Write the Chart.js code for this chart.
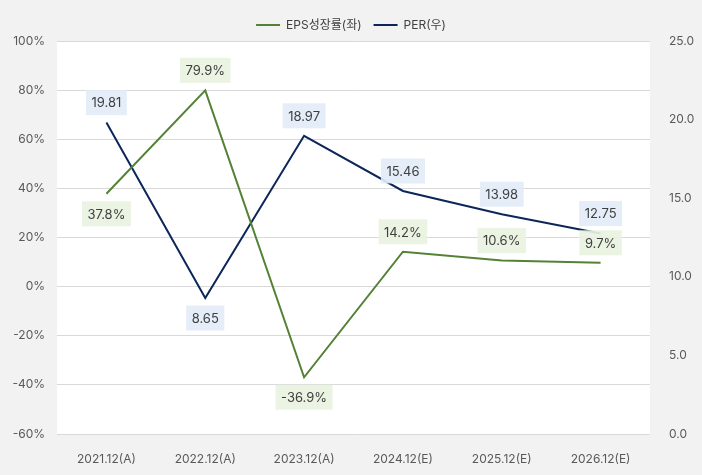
<!DOCTYPE html>
<html>
<head>
<meta charset="utf-8">
<script src="https://cdn.jsdelivr.net/npm/chart.js@4"></script>
<style>
  html, body { margin: 0; padding: 0; background: #f2f2f2; }
  #wrap { width: 702px; height: 475px; }
</style>
</head>
<body>
<div id="wrap"><canvas id="chart"></canvas></div>
<script>
const categories = ['2021.12(A)', '2022.12(A)', '2023.12(A)', '2024.12(E)', '2025.12(E)', '2026.12(E)'];
const epsGrowth = [37.8, 79.9, -36.9, 14.2, 10.6, 9.7];
const per = [19.81, 8.65, 18.97, 15.46, 13.98, 12.75];
const epsLabels = ['37.8%', '79.9%', '-36.9%', '14.2%', '10.6%', '9.7%'];
const perLabels = ['19.81', '8.65', '18.97', '15.46', '13.98', '12.75'];

// label placement: 1 = above point, -1 = below
const epsSide = [-1, 1, -1, 1, 1, 1];
const perSide = [1, -1, 1, 1, 1, 1];

const FONT = 'Inter, "Noto Sans CJK KR", sans-serif';

const plotBg = {
  id: 'plotBg',
  beforeDraw(chart) {
    const { ctx, chartArea: a } = chart;
    ctx.save();
    ctx.fillStyle = '#ffffff';
    ctx.fillRect(a.left, a.top, a.right - a.left, a.bottom - a.top);
    ctx.restore();
  },
};

const boxLabels = {
  id: 'boxLabels',
  afterDatasetsDraw(chart) {
    const { ctx } = chart;
    const sets = [
      { idx: 0, texts: epsLabels, side: epsSide, bg: 'rgba(233,242,225,0.92)' },
      { idx: 1, texts: perLabels, side: perSide, bg: 'rgba(226,235,247,0.92)' },
    ];
    ctx.save();
    ctx.font = '13px ' + FONT;
    ctx.textAlign = 'center';
    ctx.textBaseline = 'middle';
    sets.forEach((s) => {
      chart.getDatasetMeta(s.idx).data.forEach((pt, i) => {
        const cy = pt.y - s.side[i] * 20;
        const w = ctx.measureText(s.texts[i]).width + 11;
        const h = 25;
        ctx.fillStyle = s.bg;
        ctx.fillRect(pt.x - w / 2, cy - h / 2, w, h);
        ctx.fillStyle = '#404040';
        ctx.fillText(s.texts[i], pt.x, cy + 1);
      });
    });
    ctx.restore();
  },
};

new Chart(document.getElementById('chart'), {
  type: 'line',
  data: {
    labels: categories,
    datasets: [
      {
        label: 'EPS성장률(좌)',
        data: epsGrowth,
        yAxisID: 'y',
        borderColor: '#548235',
        backgroundColor: '#548235',
        borderWidth: 2,
        pointRadius: 0,
        tension: 0,
      },
      {
        label: 'PER(우)',
        data: per,
        yAxisID: 'y1',
        borderColor: '#0c2659',
        backgroundColor: '#0c2659',
        borderWidth: 2,
        pointRadius: 0,
        tension: 0,
      },
    ],
  },
  options: {
    responsive: true,
    maintainAspectRatio: false,
    animation: false,
    layout: { padding: { top: 7, left: 0, right: 0, bottom: 0 } },
    plugins: {
      legend: {
        display: true,
        labels: {
          usePointStyle: true,
          pointStyle: 'line',
          pointStyleWidth: 24,
          boxHeight: 2,
          color: '#404040',
          font: { family: FONT, size: 12 },
          padding: 12,
        },
      },
      tooltip: { enabled: false },
    },
    scales: {
      x: {
        offset: true,
        grid: { display: false },
        border: { display: false },
        ticks: { color: '#595959', font: { family: FONT, size: 12 }, padding: 10 },
        afterFit(axis) { axis.height = 41; },
      },
      y: {
        position: 'left',
        min: -60,
        max: 100,
        ticks: {
          stepSize: 20,
          color: '#595959',
          font: { family: FONT, size: 12 },
          padding: 12,
          callback: (v) => v + '%',
        },
        grid: { color: '#d9d9d9', drawTicks: false },
        border: { display: false },
        afterFit(axis) { axis.width = 57; },
      },
      y1: {
        position: 'right',
        min: 0,
        max: 25,
        ticks: {
          stepSize: 5,
          color: '#595959',
          font: { family: FONT, size: 12 },
          padding: 11,
          callback: (v) => v.toFixed(1),
        },
        grid: { display: false },
        border: { display: false },
        afterFit(axis) { axis.width = 52; },
      },
    },
  },
  plugins: [plotBg, boxLabels],
});
</script>
</body>
</html>
